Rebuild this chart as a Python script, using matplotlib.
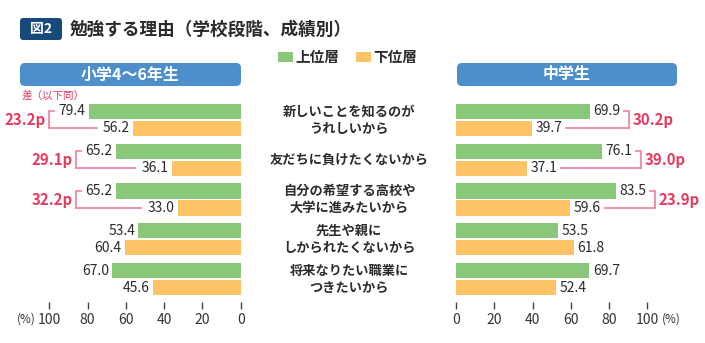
import matplotlib
matplotlib.use("Agg")
import matplotlib.pyplot as plt
from matplotlib.patches import FancyBboxPatch, Rectangle
from matplotlib.transforms import IdentityTransform

plt.rcParams['font.family'] = ['Noto Sans CJK JP', 'DejaVu Sans']

# data
reasons = ["新しいことを知るのが\nうれしいから", "友だちに負けたくないから",
           "自分の希望する高校や\n大学に進みたいから", "先生や親に\nしかられたくないから",
           "将来なりたい職業に\nつきたいから"]
elem_top = [79.4, 65.2, 65.2, 53.4, 67.0]
elem_low = [56.2, 36.1, 33.0, 60.4, 45.6]
jhs_top = [69.9, 76.1, 83.5, 53.5, 69.7]
jhs_low = [39.7, 37.1, 59.6, 61.8, 52.4]
elem_diff = ["23.2p", "29.1p", "32.2p"]
jhs_diff = ["30.2p", "39.0p", "23.9p"]
ticks = [0, 20, 40, 60, 80, 100]

GREEN = "#89C878"
ORANGE = "#FEC366"
PINK = "#E8395E"
PINK_L = "#F07F96"
BLUE = "#4D8FCB"
NAVY = "#17497B"
TXT = "#2b2b2b"

W, H = 705, 343
fig = plt.figure(figsize=(W / 100, H / 100), dpi=100)
fig.patch.set_facecolor("white")


def fx(x):
    return x / W


def fy(y):
    return 1 - y / H


def rbox(x0, y0, x1, y1, color, r=4):
    p = FancyBboxPatch((x0, H - y1), x1 - x0, y1 - y0,
                       boxstyle="round,pad=0,rounding_size=%d" % r,
                       facecolor=color, edgecolor="none",
                       transform=IdentityTransform())
    fig.add_artist(p)


# title
rbox(20, 18, 62, 40, NAVY, r=3)
fig.text(fx(41), fy(29.5), "図2", color="white", fontsize=10, fontweight="bold",
         ha="center", va="center")
fig.text(fx(70), fy(29.5), "勉強する理由（学校段階、成績別）", color=TXT, fontsize=12.7,
         fontweight="bold", ha="left", va="center")

# legend
for x0, c, lab in [(278, GREEN, "上位層"), (356, ORANGE, "下位層")]:
    fig.add_artist(Rectangle((x0, H - 62), 15, 10, facecolor=c, edgecolor="none",
                             transform=IdentityTransform()))
    fig.text(fx(x0 + 17), fy(57), lab, color=TXT, fontsize=10.5, fontweight="bold",
             ha="left", va="center")

# panel headers
rbox(20, 63, 241, 86, BLUE, r=5)
fig.text(fx(130.5), fy(74.5), "小学4〜6年生", color="white", fontsize=11.5,
         fontweight="bold", ha="center", va="center")
rbox(457, 63, 677, 86, BLUE, r=5)
fig.text(fx(567), fy(74.5), "中学生", color="white", fontsize=11.5,
         fontweight="bold", ha="center", va="center")
fig.text(fx(22), fy(96), "差（以下同）", color=PINK, fontsize=7.6, ha="left", va="center")

n = len(reasons)
off = 0.214
bh = 0.38
pos = list(range(n))

axL = fig.add_axes([fx(49.3), fy(299), 191.4 / W, 199 / H])
axR = fig.add_axes([fx(456), fy(299), 191.4 / W, 199 / H])

for ax in (axL, axR):
    ax.set_ylim(n - 0.5, -0.5)
    ax.set_yticks([])
    for s in ["left", "right", "top"]:
        ax.spines[s].set_visible(False)
    ax.spines["bottom"].set_position(("outward", 2.2))
    ax.spines["bottom"].set_visible(False)
    ax.set_xticks(ticks)
    ax.tick_params(axis="x", length=5.2, width=1, color="#444", labelcolor="#333",
                   labelsize=10, pad=3)
    ax.patch.set_alpha(0)

axL.set_xlim(100, 0)
axR.set_xlim(0, 100)
axL.barh([p - off for p in pos], elem_top, height=bh, color=GREEN)
axL.barh([p + off for p in pos], elem_low, height=bh, color=ORANGE)
axR.barh([p - off for p in pos], jhs_top, height=bh, color=GREEN)
axR.barh([p + off for p in pos], jhs_low, height=bh, color=ORANGE)

fs = 10
for i in pos:
    axL.text(elem_top[i] + 1.8, i - off, f"{elem_top[i]:.1f}", ha="right", va="center",
             fontsize=fs, color=TXT)
    axL.text(elem_low[i] + 1.8, i + off, f"{elem_low[i]:.1f}", ha="right", va="center",
             fontsize=fs, color=TXT)
    axR.text(jhs_top[i] + 1.8, i - off, f"{jhs_top[i]:.1f}", ha="left", va="center",
             fontsize=fs, color=TXT)
    axR.text(jhs_low[i] + 1.8, i + off, f"{jhs_low[i]:.1f}", ha="left", va="center",
             fontsize=fs, color=TXT)

# difference brackets
for i, d in enumerate(elem_diff):
    bx = elem_top[i] + 20.7
    axL.plot([bx - 2.5, bx, bx], [i - off, i - off, i + off], color=PINK_L, lw=1.2,
             clip_on=False, solid_joinstyle="miter")
    axL.plot([bx, elem_low[i] + 19], [i + off, i + off], color=PINK_L, lw=1.2,
             clip_on=False)
    axL.text(bx + 2, i, d, ha="right", va="center", fontsize=10.8, color=PINK,
             fontweight="bold")
for i, d in enumerate(jhs_diff):
    bx = jhs_top[i] + 20.4
    axR.plot([bx - 2.5, bx, bx], [i - off, i - off, i + off], color=PINK_L, lw=1.2,
             clip_on=False, solid_joinstyle="miter")
    axR.plot([bx, jhs_low[i] + 18], [i + off, i + off], color=PINK_L, lw=1.2,
             clip_on=False)
    axR.text(bx + 2, i, d, ha="left", va="center", fontsize=10.8, color=PINK,
             fontweight="bold")

# category labels in the middle
for i, r in enumerate(reasons):
    ymid = 120 + i * 39.75
    fig.text(fx(349), fy(ymid), r, ha="center", va="center", fontsize=9.5,
             fontweight="bold", color=TXT, linespacing=1.25)

fig.text(fx(36), fy(319), "(%)", ha="right", va="center", fontsize=8.5, color="#333")
fig.text(fx(662), fy(319), "(%)", ha="left", va="center", fontsize=8.5, color="#333")

fig.savefig("out.png", dpi=100)
